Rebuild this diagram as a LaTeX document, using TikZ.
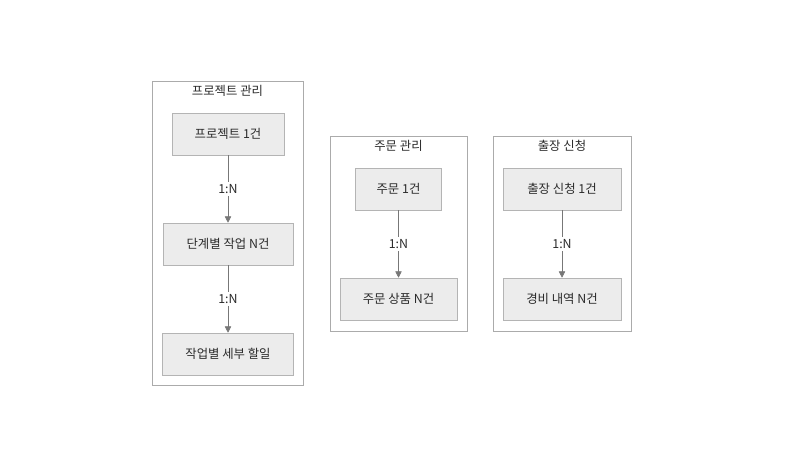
\documentclass[tikz,border=0pt]{standalone}
\usepackage{fontspec}
\setmainfont{Noto Sans CJK KR}
\usetikzlibrary{arrows.meta}
\definecolor{boxfill}{HTML}{ECECEC}
\definecolor{boxline}{HTML}{B4B4B4}
\definecolor{grpline}{HTML}{ABABAB}
\definecolor{arrline}{HTML}{777777}
\definecolor{txt}{HTML}{2A2A2A}
\tikzset{
	entity/.style={draw=boxline,fill=boxfill,minimum height=42*0.025cm,text=txt,font=\fontsize{8.8}{10}\selectfont,inner sep=0pt},
	group/.style={draw=grpline,fill=white},
	grouptitle/.style={text=txt,font=\fontsize{8.8}{10}\selectfont,inner sep=0pt},
	rel/.style={draw=arrline,-{Triangle[length=4.5pt,width=4.5pt]}},
	card/.style={fill=white,text=txt,font=\fontsize{8.8}{10}\selectfont,inner sep=1.5pt}
}
\begin{document}
\begin{tikzpicture}[x=0.025cm,y=-0.025cm]
		\useasboundingbox (0,0) rectangle (800,450);
		% groups
		\draw[group] (152,81) rectangle (303,385);
		\draw[group] (330,136) rectangle (467,331);
		\draw[group] (493,136) rectangle (631,331);
		\node[grouptitle] (projtitle) at (227.5,91) {프로젝트 관리};
		\node[grouptitle] (ordertitle) at (398.5,146) {주문 관리};
		\node[grouptitle] (triptitle) at (562,146) {출장 신청};
		% project
		\node[entity,minimum width=112*0.025cm] (project) at (228,134) {프로젝트 1건};
		\node[entity,minimum width=130*0.025cm] (stage) at (228,244) {단계별 작업 N건};
		\node[entity,minimum width=131*0.025cm] (task) at (228,354) {작업별 세부 할일};
		% order
		\node[entity,minimum width=86*0.025cm] (order) at (398.5,189) {주문 1건};
		\node[entity,minimum width=117*0.025cm] (item) at (398.5,299) {주문 상품 N건};
		% trip
		\node[entity,minimum width=118*0.025cm] (trip) at (562,189) {출장 신청 1건};
		\node[entity,minimum width=118*0.025cm] (expense) at (562,299) {경비 내역 N건};
		% relations
		\draw[rel] (project) -- node[card] {1:N} (stage);
		\draw[rel] (stage) -- node[card] {1:N} (task);
		\draw[rel] (order) -- node[card] {1:N} (item);
		\draw[rel] (trip) -- node[card] {1:N} (expense);
	\end{tikzpicture}
\end{document}
